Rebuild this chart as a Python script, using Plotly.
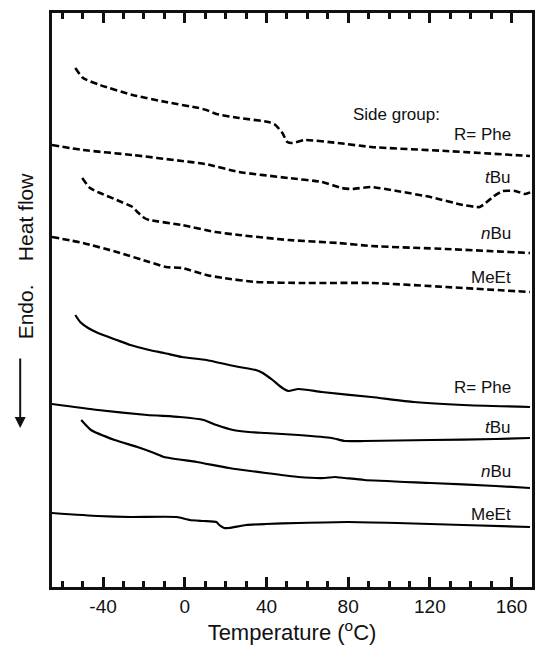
import plotly.graph_objects as go

# Temperature (°C) and heat flow (arbitrary units, endo down)
phe_d_T = [-53.6, -49.8, -41.5, -25.6, -9.2, 6.8, 10.6, 15.5, 26.6, 41.0, 44.4, 47.8, 50.2, 52.7, 58.9, 74.9, 91.3, 128.0, 169.0]
phe_d_y = [519, 509, 502, 492, 485, 479, 477, 473, 469, 465, 462, 454, 445, 444, 447, 444, 440, 436, 431]

tbu_d_T = [-65.0, -49.8, -25.6, -1.4, 10.1, 26.6, 50.7, 67.1, 76.8, 81.6, 91.3, 103.9, 120.3, 136.2, 144.4, 147.3, 150.7, 155.6, 161.8, 166.7, 169.6]
tbu_d_y = [442, 437, 432, 426, 423, 415, 409, 405, 399, 398, 400, 396, 390, 382, 380, 384, 390, 396, 396, 393, 395]

nbu_d_T = [-50.2, -46.4, -41.5, -33.3, -25.6, -23.2, -19.8, -17.4, -1.4, 15.0, 26.6, 50.7, 74.9, 91.3, 128.0, 169.0]
nbu_d_y = [409, 399, 394, 387, 380, 375, 369, 367, 362, 355, 352, 347, 344, 341, 338, 334]

meet_d_T = [-65.0, -49.8, -33.3, -17.4, -9.2, -1.4, 10.6, 18.8, 34.8, 58.9, 91.3, 128.0, 169.0]
meet_d_y = [350, 344, 335, 325, 320, 319, 312, 309, 305, 304, 304, 300, 295]

phe_s_T = [-53.6, -51.2, -47.3, -42.5, -33.3, -26.6, -17.4, -10.1, -1.4, 10.6, 21.7, 26.6, 34.8, 38.2, 43.0, 47.8, 50.7, 55.6, 67.1, 91.3, 112.1, 136.2, 169.0]
phe_s_y = [272, 265, 259, 254, 247, 242, 237, 234, 230, 227, 222, 220, 217, 214, 207, 199, 196, 198, 195, 190, 185, 182, 180]

tbu_s_T = [-65.0, -42.5, -18.4, -2.4, 9.2, 15.5, 23.7, 31.4, 39.6, 55.6, 72.0, 78.3, 87.9, 120.3, 152.2, 169.0]
tbu_s_y = [183, 177, 172, 170, 167, 162, 157, 155, 154, 152, 149, 146, 146, 147, 148, 149]

nbu_s_T = [-50.7, -45.9, -34.3, -23.2, -15.0, -10.1, 5.8, 21.7, 39.6, 55.6, 68.6, 73.4, 78.3, 87.9, 120.3, 152.2, 169.0]
nbu_s_y = [167, 157, 147, 140, 134, 130, 125, 119, 114, 110, 109, 110, 109, 107, 104, 101, 99]

meet_s_T = [-65.0, -42.5, -26.6, -3.9, 2.4, 9.2, 15.5, 16.9, 19.3, 21.7, 30.0, 39.6, 55.6, 79.7, 103.9, 136.2, 169.0]
meet_s_y = [74, 71, 70, 70, 67, 66, 65, 62, 59, 59, 62, 63, 64, 65, 64, 62, 60]

label_text = ["R= Phe", "<i>t</i>Bu", "<i>n</i>Bu", "MeEt", "R= Phe", "<i>t</i>Bu", "<i>n</i>Bu", "MeEt"]
label_y = [453, 410, 354, 310, 200, 160, 116, 73]
label_T = 160.5
side_T, side_y = 81.6, 473

tick_vals = [-40, 0, 40, 80, 120, 160]
tick_text = ["-40", "0", "40", "80", "120", "160"]
x_range = [-65, 170]
y_range = [0, 574]

FONT = "Liberation Sans, Arial, Helvetica, sans-serif"
INK = "#111"

fig = go.Figure()
dashed = [(phe_d_T, phe_d_y), (tbu_d_T, tbu_d_y), (nbu_d_T, nbu_d_y), (meet_d_T, meet_d_y)]
solid = [(phe_s_T, phe_s_y), (tbu_s_T, tbu_s_y), (nbu_s_T, nbu_s_y), (meet_s_T, meet_s_y)]
for T, y in dashed:
    fig.add_trace(go.Scatter(x=T, y=y, mode="lines", line=dict(color="black", width=2.6, dash="7px,3.5px", shape="spline", smoothing=0.5), showlegend=False, hoverinfo="skip"))
for T, y in solid:
    fig.add_trace(go.Scatter(x=T, y=y, mode="lines", line=dict(color="black", width=2.2, shape="spline", smoothing=0.5), showlegend=False, hoverinfo="skip"))

for txt, yy in zip(label_text, label_y):
    fig.add_annotation(x=label_T, y=yy, text=txt, showarrow=False, xanchor="right", yanchor="middle",
                       font=dict(family=FONT, size=17, color=INK))
fig.add_annotation(x=side_T, y=side_y, text="Side group:", showarrow=False, xanchor="left", yanchor="middle",
                   font=dict(family=FONT, size=17, color=INK))

# y-axis title with arrow
fig.add_annotation(xref="paper", yref="paper", x=-0.0545, y=0.5775, text="Endo.    Heat flow", textangle=-90,
                   showarrow=False, xanchor="center", yanchor="middle", font=dict(family=FONT, size=21, color=INK))
fig.add_annotation(xref="paper", yref="paper", x=(20 - 52) / 483, y=(587 - 428) / 574, text=" ", showarrow=True,
                   ax=0, ay=-78, arrowhead=2, arrowsize=1.1, arrowwidth=2, arrowcolor=INK, standoff=0)

fig.update_layout(
    width=539, height=648, margin=dict(l=52, r=4, t=13, b=61),
    plot_bgcolor="white", paper_bgcolor="white",
    font=dict(family=FONT, color=INK),
    xaxis=dict(range=x_range, tickmode="array", tickvals=tick_vals, ticktext=tick_text,
               ticks="inside", ticklen=10, tickwidth=2.5, tickcolor=INK,
               minor=dict(tickmode="linear", tick0=0, dtick=10, ticks="inside", ticklen=6, tickwidth=2.5, tickcolor=INK),
               showline=True, linewidth=2.5, linecolor=INK, mirror="allticks", showgrid=False, zeroline=False,
               tickfont=dict(size=19),
               title=dict(text="Temperature (<sup>o</sup>C)", font=dict(size=22), standoff=2)),
    yaxis=dict(range=y_range, showticklabels=False, ticks="", showline=True, linewidth=2.5, linecolor=INK,
               mirror=True, showgrid=False, zeroline=False),
)
fig.write_html("out.html")
